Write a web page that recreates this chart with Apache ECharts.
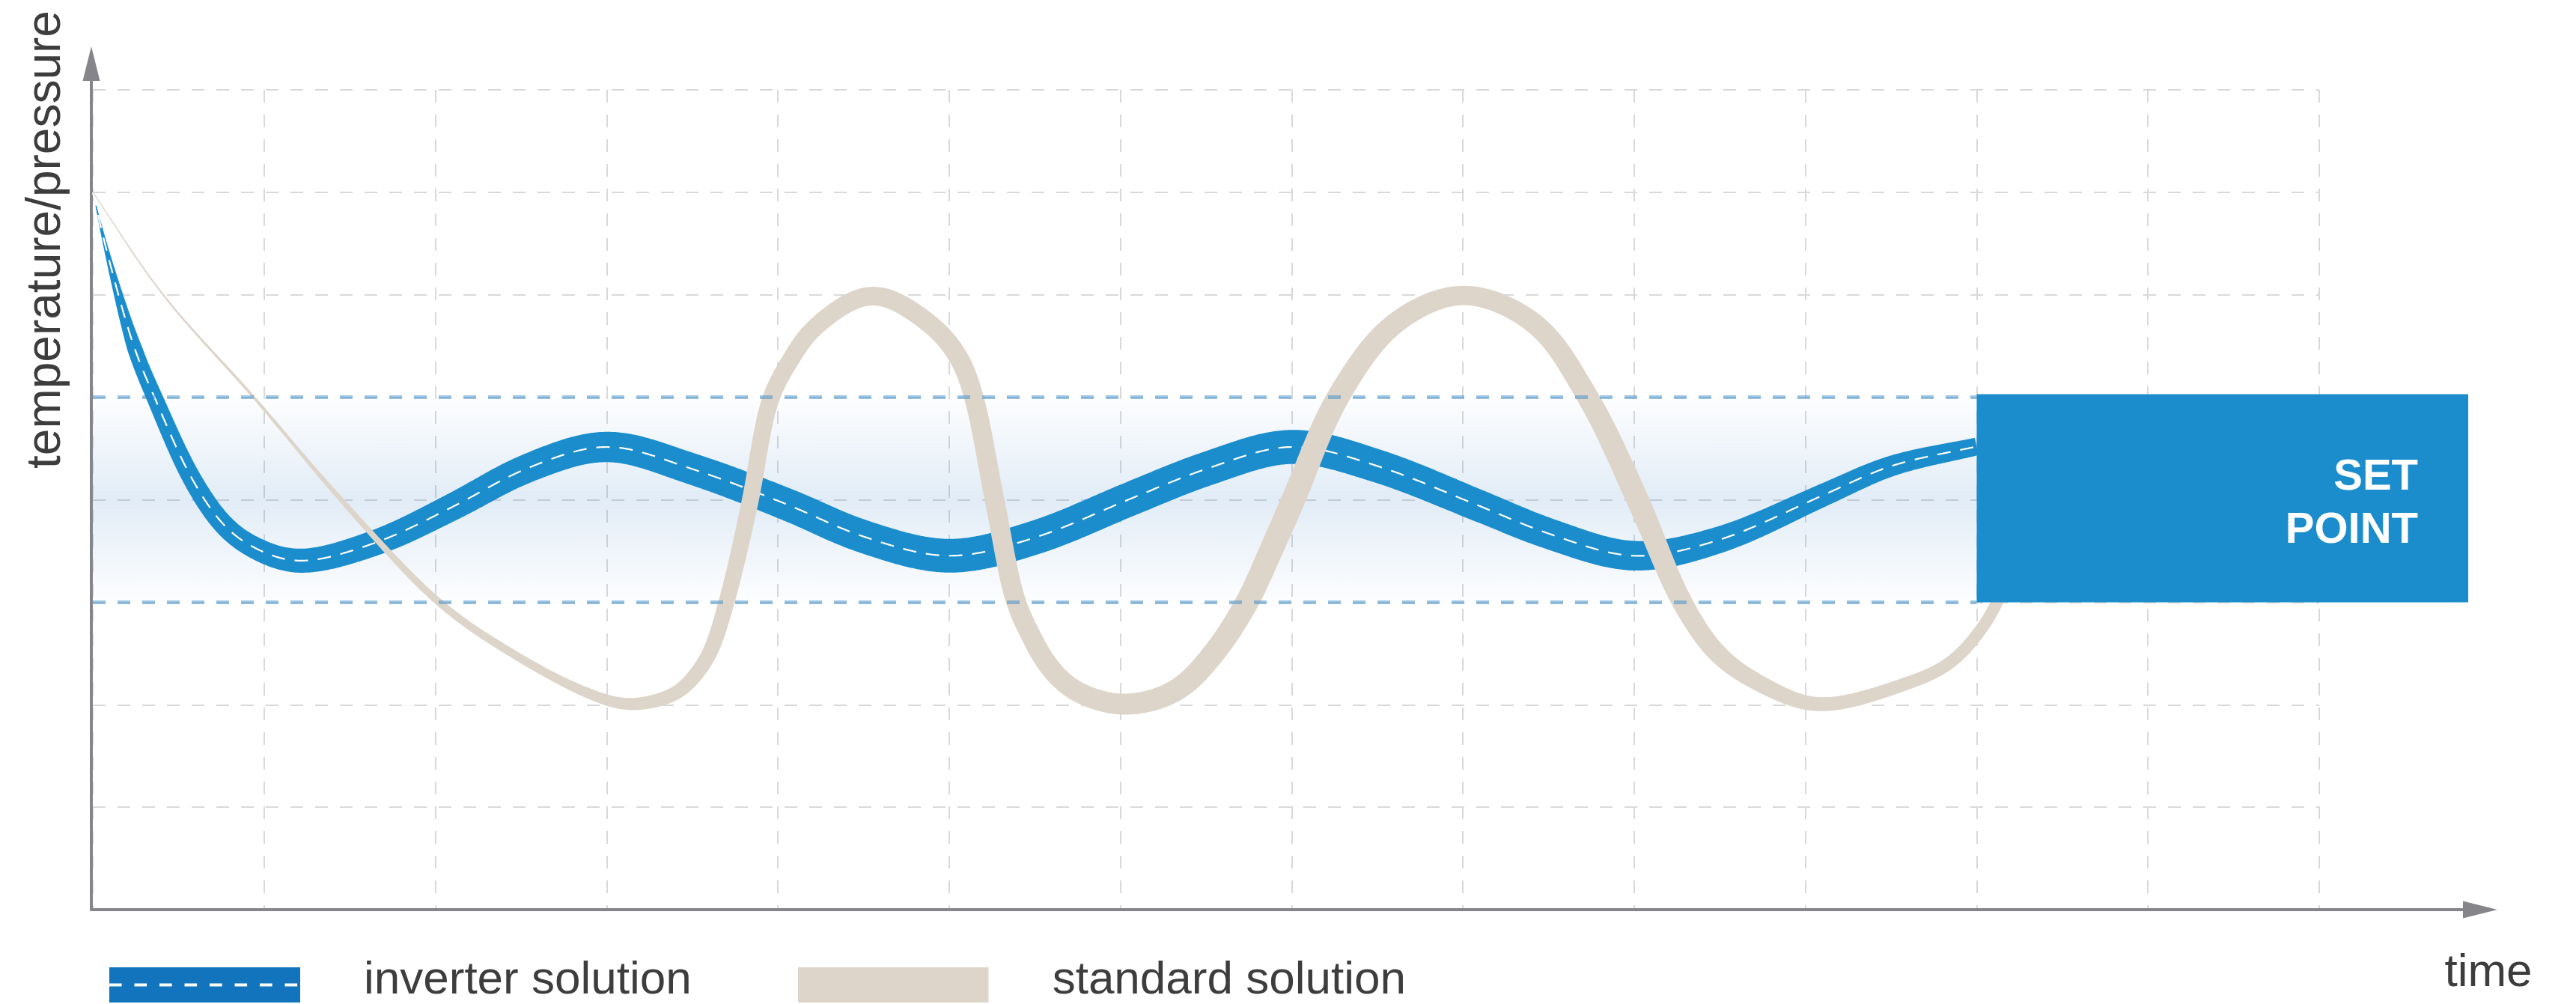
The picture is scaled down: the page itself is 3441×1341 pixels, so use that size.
<!DOCTYPE html>
<html>
<head>
<meta charset="utf-8">
<script src="https://cdn.jsdelivr.net/npm/echarts@6/dist/echarts.min.js"></script>
<style>
  html, body { margin: 0; padding: 0; background: #ffffff; }
  #chart { width: 3441px; height: 1341px; }
</style>
</head>
<body>
<div id="chart"></div>
<script>
// ---------------- DATA ----------------
const seriesNames = ['inverter solution', 'standard solution'];
const axisTitles = { x: 'time', y: 'temperature/pressure' };
const setPointText = 'SET\nPOINT';

// x / y ranges of the dashed grid (no tick labels are shown)
const xRange = [0, 13];
const yRange = [0, 8];

// inverter solution (centre line of the blue ribbon)
const inverterX = [0, 0.09, 0.245, 0.36, 0.58, 0.76, 0.91, 1.19, 1.65, 2.10, 2.54, 3.0,
                   3.5, 4.06, 4.5, 5.0, 5.5, 6.06, 6.5, 7.0, 7.5, 8.11, 8.5, 9.0, 9.5, 10.11, 10.5, 11.0];
const inverterY = [7, 6.37, 5.47, 5.0, 4.2, 3.76, 3.56, 3.40, 3.58, 3.93, 4.31, 4.52,
                   4.30, 3.95, 3.64, 3.45, 3.63, 4.01, 4.30, 4.52, 4.33, 3.93, 3.67, 3.45, 3.61, 4.05, 4.33, 4.52];

// standard solution (centre line of the beige ribbon)
const standardX = [0, 0.41, 0.94, 1.45, 2.02, 2.43, 2.88, 3.13,
                   3.41, 3.50, 3.60, 3.70, 3.77, 3.84, 3.96, 4.08, 4.2, 4.55, 4.9, 5.06, 5.145, 5.265, 5.39, 5.47, 5.57, 5.72, 6.01,
                   6.32, 6.54, 6.74, 6.87, 7.01, 7.27, 7.6, 8.0, 8.42, 8.73, 9.02, 9.28, 9.49, 9.74, 10.07,
                   10.58, 10.84, 11.02, 11.12, 11.3];
const standardY = [7, 6.0, 5.0, 4.0, 3.0, 2.52, 2.12, 2.0,
                   2.11, 2.25, 2.49, 3.0, 3.47, 4.0, 5.0, 5.38, 5.66, 6.0, 5.7, 5.38, 5.0, 4.0, 3.0, 2.7, 2.40, 2.15, 2.0,
                   2.13, 2.49, 3.0, 3.47, 4.0, 5.0, 5.72, 6.0, 5.72, 5.0, 4.0, 3.0, 2.49, 2.2, 2.0,
                   2.2, 2.4, 2.72, 3.0, 3.8];

// tolerance band and set-point box
const bandLow = 3;
const bandHigh = 5;
const setPointX = [11, 13.87];
const setPointY = [3, 5.03];

// ---------------- STYLE ----------------
const COLORS = {
  ribbonBlue: '#1b8dcd',
  beige: '#ddd5c9',
  legendBlue: '#1174bc',
  axis: '#86868a',
  grid: '#d9d9d9',
  text: '#3d3d3d',
  bandLine: 'rgba(40,130,200,0.45)'
};
const FONT = "'Liberation Sans', Arial, Helvetica, sans-serif";
// ribbon thickness in pixels along x (style only)
const inverterTaper = [[0, 0], [0.09, 7], [0.245, 20], [0.58, 25], [1.19, 32], [3, 40.5], [5, 45], [7, 45.5], [9, 39.5], [10, 31], [11, 23.7]];
const standardTaper = [[0, 1.2], [0.33, 2], [0.8, 3.5], [1.16, 4.5], [1.87, 9.4], [2.65, 11.6], [3.13, 16], [3.84, 22.5], [4.55, 25],
                       [5.25, 26], [6, 28], [6.99, 32], [8, 25.7], [9.02, 30], [10.07, 18.6], [11.09, 16], [11.5, 15]];
// legend swatch: 255 x 47 coloured block drawn low inside a 68 px tall icon
const ICON_W = 255, ICON_H = 68, SWATCH_TOP = 21;

// ---------------- helpers (rendering geometry only) ----------------
function catmullRom(pts, steps) {
  const n = pts.length, out = [];
  const P = (i) => {
    if (i < 0) return [2 * pts[0][0] - pts[1][0], 2 * pts[0][1] - pts[1][1]];
    if (i > n - 1) return [2 * pts[n - 1][0] - pts[n - 2][0], 2 * pts[n - 1][1] - pts[n - 2][1]];
    return pts[i];
  };
  const d = (a, b) => Math.max(Math.pow(Math.hypot(b[0] - a[0], b[1] - a[1]), 0.5), 1e-4);
  for (let i = 0; i < n - 1; i++) {
    const p0 = P(i - 1), p1 = P(i), p2 = P(i + 1), p3 = P(i + 2);
    const t0 = 0, t1 = t0 + d(p0, p1), t2 = t1 + d(p1, p2), t3 = t2 + d(p2, p3);
    for (let s = 0; s < steps; s++) {
      const t = t1 + (t2 - t1) * s / steps;
      const lerp = (a, b, ta, tb) => [
        (tb - t) / (tb - ta) * a[0] + (t - ta) / (tb - ta) * b[0],
        (tb - t) / (tb - ta) * a[1] + (t - ta) / (tb - ta) * b[1]
      ];
      const A1 = lerp(p0, p1, t0, t1), A2 = lerp(p1, p2, t1, t2), A3 = lerp(p2, p3, t2, t3);
      const B1 = lerp(A1, A2, t0, t2), B2 = lerp(A2, A3, t1, t3);
      out.push(lerp(B1, B2, t1, t2));
    }
  }
  out.push(pts[n - 1]);
  return out;
}

function resample(pts, step) {
  const out = [pts[0]];
  let prev = pts[0], acc = 0;
  for (let i = 1; i < pts.length; i++) {
    let a = prev; const b = pts[i];
    let seg = Math.hypot(b[0] - a[0], b[1] - a[1]);
    while (acc + seg >= step && seg > 0) {
      const f = (step - acc) / seg;
      a = [a[0] + (b[0] - a[0]) * f, a[1] + (b[1] - a[1]) * f];
      out.push(a);
      seg = Math.hypot(b[0] - a[0], b[1] - a[1]);
      acc = 0;
    }
    acc += seg;
    prev = b;
  }
  out.push(pts[pts.length - 1]);
  return out;
}

function gaussSmooth(pts, sigma) {
  const n = pts.length, r = Math.ceil(sigma * 2.5), out = [];
  for (let i = 0; i < n; i++) {
    const rr = Math.min(r, i, n - 1 - i);
    let sx = 0, sy = 0, sw = 0;
    for (let j = -rr; j <= rr; j++) {
      const w = Math.exp(-j * j / (2 * sigma * sigma));
      sx += w * pts[i + j][0]; sy += w * pts[i + j][1]; sw += w;
    }
    out.push([sx / sw, sy / sw]);
  }
  return out;
}

function makeWidthFn(taper, api) {
  const k = taper.map(([x, w]) => [api.coord([x, 0])[0], w]);
  return function (px) {
    if (px <= k[0][0]) return k[0][1];
    for (let i = 1; i < k.length; i++) {
      if (px <= k[i][0]) {
        const f = (px - k[i - 1][0]) / (k[i][0] - k[i - 1][0]);
        return k[i - 1][1] + f * (k[i][1] - k[i - 1][1]);
      }
    }
    return k[k.length - 1][1];
  };
}

function ribbonPolygon(c, widthAt) {
  const L = [], R = [];
  for (let i = 0; i < c.length; i++) {
    const a = c[Math.max(i - 2, 0)], b = c[Math.min(i + 2, c.length - 1)];
    let tx = b[0] - a[0], ty = b[1] - a[1];
    const len = Math.hypot(tx, ty) || 1;
    tx /= len; ty /= len;
    const h = widthAt(c[i][0]) / 2;
    L.push([c[i][0] - ty * h, c[i][1] + tx * h]);
    R.push([c[i][0] + ty * h, c[i][1] - tx * h]);
  }
  return L.concat(R.reverse());
}

function ribbonRenderer(xs, ys, taper, color, dashed) {
  return function (params, api) {
    if (params.dataIndex !== 0) return null;
    const pts = xs.map((x, i) => api.coord([x, ys[i]]));
    const centre = gaussSmooth(resample(catmullRom(pts, 40), 2), 7);
    const poly = ribbonPolygon(centre, makeWidthFn(taper, api));
    const children = [{ type: 'polygon', shape: { points: poly }, style: { fill: color, stroke: 'none' } }];
    if (dashed) {
      children.push({ type: 'polyline', shape: { points: centre },
        style: { stroke: '#ffffff', lineWidth: 2.2, lineDash: [18, 13], fill: 'none' } });
    }
    return { type: 'group', children: children };
  };
}

function svgIcon(fill, dashed) {
  const h = ICON_H - SWATCH_TOP, mid = SWATCH_TOP + h / 2;
  let s = "<svg xmlns='http://www.w3.org/2000/svg' width='" + ICON_W + "' height='" + ICON_H + "' viewBox='0 0 " + ICON_W + " " + ICON_H + "'>" +
          "<rect x='0' y='" + SWATCH_TOP + "' width='" + ICON_W + "' height='" + h + "' fill='" + fill + "'/>";
  if (dashed) s += "<line x1='0' y1='" + mid + "' x2='" + ICON_W + "' y2='" + mid + "' stroke='#ffffff' stroke-width='4' stroke-dasharray='16.6 16.9'/>";
  s += "</svg>";
  return 'image://data:image/svg+xml;charset=utf-8,' + encodeURIComponent(s);
}

// ---------------- CHART ----------------
const chart = echarts.init(document.getElementById('chart'), null, { renderer: 'svg', width: 3441, height: 1341 });

const hiddenAxisParts = { axisTick: { show: false }, axisLabel: { show: false } };

const option = {
  animation: false,
  backgroundColor: '#ffffff',
  textStyle: { fontFamily: FONT },
  grid: [
    { left: 124, right: 343, top: 120, bottom: 126 },   // data grid
    { left: 122, right: 128, top: 85, bottom: 126 }     // axes with arrows
  ],
  xAxis: [
    Object.assign({ type: 'value', gridIndex: 0, min: xRange[0], max: xRange[1], interval: 1,
      axisLine: { show: false },
      splitLine: { show: true, lineStyle: { color: COLORS.grid, width: 2, type: [17, 16] } } }, hiddenAxisParts),
    Object.assign({ type: 'value', gridIndex: 1, min: 0, max: 1,
      axisLine: { show: true, symbol: ['none', 'triangle'], symbolSize: [23, 46],
        lineStyle: { color: COLORS.axis, width: 4 } },
      splitLine: { show: false } }, hiddenAxisParts)
  ],
  yAxis: [
    Object.assign({ type: 'value', gridIndex: 0, min: yRange[0], max: yRange[1], interval: 1,
      axisLine: { show: false },
      splitLine: { show: true, lineStyle: { color: COLORS.grid, width: 2, type: [17, 16] } } }, hiddenAxisParts),
    Object.assign({ type: 'value', gridIndex: 1, min: 0, max: 1,
      axisLine: { show: true, onZero: false, symbol: ['none', 'triangle'], symbolSize: [23, 46],
        lineStyle: { color: COLORS.axis, width: 4 } },
      splitLine: { show: false } }, hiddenAxisParts)
  ],
  legend: {
    left: 146, top: 1271, padding: 0, orient: 'horizontal',
    itemWidth: ICON_W, itemHeight: ICON_H, itemGap: 142, selectedMode: false,
    symbolKeepAspect: false,
    textStyle: { fontSize: 62, color: COLORS.text, fontFamily: FONT, padding: [0, 0, 0, 80] },
    data: [
      { name: seriesNames[0], icon: svgIcon(COLORS.legendBlue, true) },
      { name: seriesNames[1], icon: svgIcon(COLORS.beige, false) }
    ]
  },
  graphic: [
    { type: 'text', x: 3324, y: 1295, silent: true,
      style: { text: axisTitles.x, fontSize: 62, fontFamily: FONT, fill: COLORS.text, align: 'center', verticalAlign: 'middle' } },
    { type: 'text', x: 58, y: 320, rotation: Math.PI / 2, silent: true,
      style: { text: axisTitles.y, fontSize: 64, fontFamily: FONT, fill: COLORS.text, align: 'center', verticalAlign: 'middle' } }
  ],
  series: [
    { // tolerance band + its dashed limits
      type: 'line', name: 'band', xAxisIndex: 0, yAxisIndex: 0, data: [], silent: true,
      markArea: {
        silent: true,
        itemStyle: { color: { type: 'linear', x: 0, y: 0, x2: 0, y2: 1, colorStops: [
          { offset: 0, color: 'rgba(30,110,190,0.01)' },
          { offset: 0.5, color: 'rgba(30,110,190,0.13)' },
          { offset: 1, color: 'rgba(30,110,190,0.01)' } ] } },
        data: [[{ coord: [xRange[0], bandHigh] }, { coord: [setPointX[0], bandLow] }]]
      },
      markLine: {
        silent: true, symbol: 'none', label: { show: false },
        lineStyle: { color: COLORS.bandLine, width: 5, type: [17, 16] },
        emphasis: { disabled: true },
        data: [
          [{ coord: [xRange[0], bandHigh] }, { coord: [setPointX[0], bandHigh] }],
          [{ coord: [xRange[0], bandLow] }, { coord: [setPointX[0], bandLow] }]
        ]
      }
    },
    {
      type: 'custom', name: seriesNames[0], xAxisIndex: 0, yAxisIndex: 0, z: 2, silent: true,
      itemStyle: { color: COLORS.legendBlue },
      data: inverterX.map((x, i) => [x, inverterY[i]]),
      renderItem: ribbonRenderer(inverterX, inverterY, inverterTaper, COLORS.ribbonBlue, true)
    },
    {
      type: 'custom', name: seriesNames[1], xAxisIndex: 0, yAxisIndex: 0, z: 3, silent: true,
      itemStyle: { color: COLORS.beige },
      data: standardX.map((x, i) => [x, standardY[i]]),
      renderItem: ribbonRenderer(standardX, standardY, standardTaper, COLORS.beige, false)
    },
    {
      type: 'custom', name: 'set point', xAxisIndex: 0, yAxisIndex: 0, z: 6, silent: true,
      data: [[setPointX[0], setPointY[0], setPointX[1], setPointY[1]]],
      renderItem: function (params, api) {
        const p0 = api.coord([api.value(0), api.value(3)]);
        const p1 = api.coord([api.value(2), api.value(1)]);
        return { type: 'group', children: [
          { type: 'rect', shape: { x: p0[0], y: p0[1], width: p1[0] - p0[0], height: p1[1] - p0[1] },
            style: { fill: COLORS.ribbonBlue } },
          { type: 'text', x: p1[0] - 67, y: (p0[1] + p1[1]) / 2 + 4,
            style: { text: setPointText, fontSize: 58, fontWeight: 'bold', fontFamily: FONT,
              fill: '#ffffff', align: 'right', verticalAlign: 'middle', lineHeight: 71 } }
        ] };
      }
    }
  ]
};

chart.setOption(option);
</script>
</body>
</html>
